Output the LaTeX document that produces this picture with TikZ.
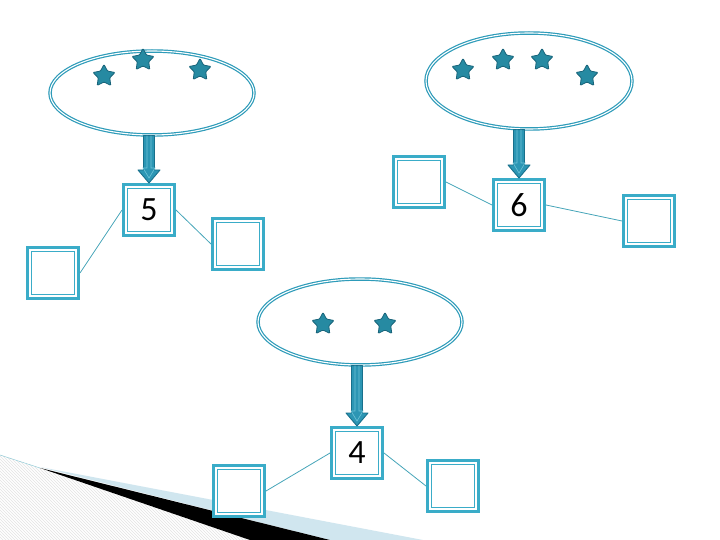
\documentclass[tikz,border=0pt]{standalone}
\usepackage{fontspec}
\setmainfont{Carlito}
\usetikzlibrary{shapes.geometric,patterns,calc}
\definecolor{boxc}{RGB}{58,172,200}
\definecolor{ellc}{RGB}{45,155,185}
\definecolor{starf}{RGB}{38,138,162}
\definecolor{stard}{RGB}{24,100,122}
\definecolor{arrf}{RGB}{44,150,180}
\definecolor{arrd}{RGB}{24,112,140}
\definecolor{arrl}{RGB}{110,195,215}
\definecolor{linec}{RGB}{70,165,185}
\definecolor{bandc}{RGB}{208,230,239}
\definecolor{hatchc}{RGB}{228,228,228}
\tikzset{
  numbox/.style={rectangle, draw=boxc, line width=3pt, minimum size=51pt,
    inner sep=0pt, fill=white, font=\fontsize{34}{38}\selectfont,
    path picture={\draw[draw=boxc, line width=1.1pt]
      ([shift={(3.6pt,-3.6pt)}]path picture bounding box.north west) rectangle
      ([shift={(-3.6pt,3.6pt)}]path picture bounding box.south east);}},
  ellbox/.style={ellipse, draw=ellc, line width=1.2pt, double=white,
    double distance=1.1pt, fill=white, inner sep=0pt},
  starn/.style={star, star points=5, star point ratio=1.9, fill=starf,
    draw=stard, line width=0.8pt, minimum size=23pt, inner sep=0pt,
    rounded corners=0.8pt},
  conn/.style={draw=linec, line width=0.8pt},
  arrstyle/.style={fill=arrf, draw=arrd, line width=0.9pt, line join=round}
}
\newcommand\bdarrow[2]{%
  \filldraw[arrstyle] let \p1=(#1), \p2=(#2) in
    (\x2-5.5pt,\y1) -- (\x2+5.5pt,\y1) -- (\x2+5.5pt,\y2+13pt) -- (\x2+11pt,\y2+13pt)
    -- (\x2,\y2) -- (\x2-11pt,\y2+13pt) -- (\x2-5.5pt,\y2+13pt) -- cycle;
  \draw[arrl, line width=0.6pt] let \p1=(#1), \p2=(#2) in
    (\x2-2pt,\y1) -- (\x2-2pt,\y2+15pt) -- (\x2-6pt,\y2+15pt) -- (\x2,\y2+5pt)
    -- (\x2+6pt,\y2+15pt) -- (\x2+2pt,\y2+15pt) -- (\x2+2pt,\y1);}
\begin{document}
\begin{tikzpicture}[x=1pt,y=-1pt]
\useasboundingbox (0,0) rectangle (720,540);
% background decoration
\fill[white] (0,0) rectangle (720,540);
\fill[pattern=north west lines, pattern color=hatchc] (0,455) -- (250,540) -- (0,540) -- cycle;
\draw[linec!60, line width=0.5pt] (0,455) -- (40,468);
\fill[bandc] (40,467) -- (423,540) -- (330,540) -- cycle;
\fill[black] (40,468) -- (330,540) -- (250,540) -- cycle;

% group 1
\node[ellbox, minimum width=204pt, minimum height=84pt] (e1) at (152,93) {};
\node[starn] (s1) at (104,76) {};
\node[starn] (s2) at (143,60) {};
\node[starn] (s3) at (200,70) {};
\node[numbox] (b1) at (149,210) {5};
\node[numbox] (l1) at (53,273) {};
\node[numbox] (r1) at (238,244) {};
\draw[conn] (b1.west) -- (l1.east);
\draw[conn] (b1.east) -- (r1.west);
\bdarrow{e1.south}{b1.north}

% group 2
\node[ellbox, minimum width=206pt, minimum height=96pt] (e2) at (529,81) {};
\node[starn] (s4) at (463,70) {};
\node[starn] (s5) at (503,60) {};
\node[starn] (s6) at (542,60) {};
\node[starn] (s7) at (587,76) {};
\node[numbox] (b2) at (519,205) {6};
\node[numbox] (l2) at (419,182) {};
\node[numbox] (r2) at (649,221) {};
\draw[conn] (b2.west) -- (l2.east);
\draw[conn] (b2.east) -- (r2.west);
\bdarrow{e2.south}{b2.north}

% group 3
\node[ellbox, minimum width=204pt, minimum height=86pt] (e3) at (360,322) {};
\node[starn] (s8) at (323,324) {};
\node[starn] (s9) at (385,324) {};
\node[numbox] (b3) at (357,453) {4};
\node[numbox] (l3) at (239,491) {};
\node[numbox] (r3) at (453,486) {};
\draw[conn] (b3.west) -- (l3.east);
\draw[conn] (b3.east) -- (r3.west);
\bdarrow{e3.south}{b3.north}
\end{tikzpicture}
\end{document}
